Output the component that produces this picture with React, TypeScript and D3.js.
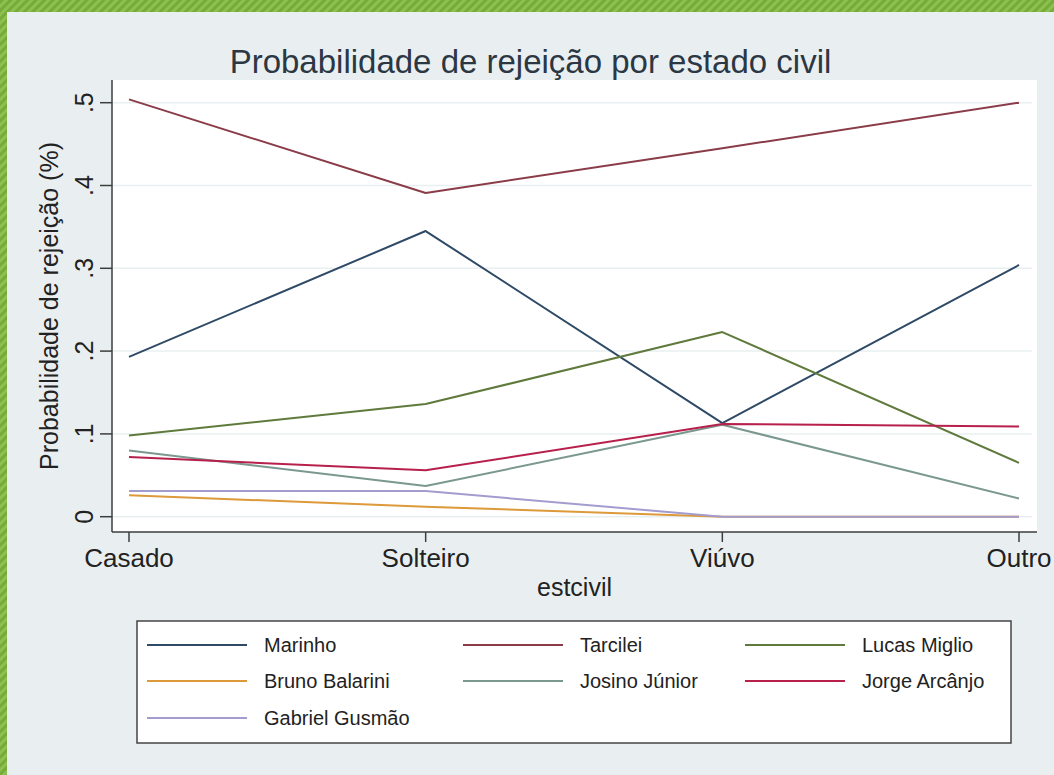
import React, { useEffect, useRef } from 'react';
import * as d3 from 'd3';

// categories on the x axis (estcivil)
const categories = ['Casado', 'Solteiro', 'Viúvo', 'Outro'];

// y ticks and their Stata-style labels
const yTicks = [0, 0.1, 0.2, 0.3, 0.4, 0.5];
const yTickLabels = ['0', '.1', '.2', '.3', '.4', '.5'];

// series names, in plot order
const seriesNames = ['Marinho', 'Tarcilei', 'Lucas Miglio', 'Bruno Balarini', 'Josino Júnior', 'Jorge Arcânjo', 'Gabriel Gusmão'];
const seriesColors = ['#2f4a66', '#8a3c48', '#5f7a3c', '#dd9a3a', '#7b9890', '#b8204c', '#a39ccf'];

// values per series, one per category
const marinho = [0.193, 0.345, 0.113, 0.304];
const tarcilei = [0.504, 0.391, 0.445, 0.5];
const lucasMiglio = [0.098, 0.136, 0.223, 0.065];
const brunoBalarini = [0.026, 0.012, 0.0, 0.0];
const josinoJunior = [0.08, 0.037, 0.111, 0.022];
const jorgeArcanjo = [0.072, 0.056, 0.112, 0.109];
const gabrielGusmao = [0.031, 0.031, 0.0, 0.0];

const seriesValues = [marinho, tarcilei, lucasMiglio, brunoBalarini, josinoJunior, jorgeArcanjo, gabrielGusmao];

const FONT = 'Liberation Sans, Arial, sans-serif';

const App = () => {
  const svgRef = useRef<SVGSVGElement | null>(null);

  useEffect(() => {
    if (!svgRef.current) return;
    const svg = d3.select(svgRef.current);
    svg.selectAll('*').remove();

    const width = 1054;
    const height = 775;

    // striped green frame
    const defs = svg.append('defs');
    const pat = defs.append('pattern')
      .attr('id', 'stripes')
      .attr('width', 6)
      .attr('height', 6)
      .attr('patternUnits', 'userSpaceOnUse')
      .attr('patternTransform', 'rotate(45)');
    pat.append('rect').attr('width', 6).attr('height', 6).attr('fill', '#8cc04f');
    pat.append('rect').attr('width', 3).attr('height', 6).attr('fill', '#76ab3a');

    svg.append('rect').attr('width', width).attr('height', height).attr('fill', 'url(#stripes)');

    // graph region background
    svg.append('rect')
      .attr('x', 7).attr('y', 12)
      .attr('width', width - 7).attr('height', height - 12)
      .attr('fill', '#e9eff1');

    // plot region
    const plot = { left: 112, right: 1037, top: 80, bottom: 532 };
    svg.append('rect')
      .attr('x', plot.left).attr('y', plot.top)
      .attr('width', plot.right - plot.left).attr('height', plot.bottom - plot.top)
      .attr('fill', '#ffffff');

    const xScale = d3.scalePoint<string>()
      .domain(categories)
      .range([129, 1019]);

    const yScale = d3.scaleLinear()
      .domain([0, 0.5])
      .range([516.7, 102.7]);

    // grid lines
    svg.append('g')
      .selectAll('line')
      .data(yTicks)
      .enter()
      .append('line')
      .attr('x1', plot.left)
      .attr('x2', plot.right - 5)
      .attr('y1', d => yScale(d))
      .attr('y2', d => yScale(d))
      .attr('stroke', '#e8eff1')
      .attr('stroke-width', 1.5);

    // series lines
    const line = d3.line<number>()
      .x((_, i) => xScale(categories[i]) as number)
      .y(d => yScale(d));

    svg.append('g')
      .selectAll('path')
      .data(seriesValues)
      .enter()
      .append('path')
      .attr('d', d => line(d))
      .attr('fill', 'none')
      .attr('stroke', (_, i) => seriesColors[i])
      .attr('stroke-width', 2)
      .attr('stroke-linejoin', 'round');

    // axes
    const axisColor = '#3d3d3d';
    svg.append('line')
      .attr('x1', plot.left).attr('x2', plot.left)
      .attr('y1', plot.top).attr('y2', plot.bottom)
      .attr('stroke', axisColor).attr('stroke-width', 1.5);
    svg.append('line')
      .attr('x1', plot.left).attr('x2', plot.right)
      .attr('y1', plot.bottom).attr('y2', plot.bottom)
      .attr('stroke', axisColor).attr('stroke-width', 1.5);

    // y ticks + rotated labels
    const yAxis = svg.append('g');
    yAxis.selectAll('line')
      .data(yTicks)
      .enter()
      .append('line')
      .attr('x1', 100).attr('x2', plot.left)
      .attr('y1', d => yScale(d)).attr('y2', d => yScale(d))
      .attr('stroke', axisColor).attr('stroke-width', 1.5);
    yAxis.selectAll('text')
      .data(yTicks)
      .enter()
      .append('text')
      .attr('transform', d => `translate(93, ${yScale(d)}) rotate(-90)`)
      .attr('text-anchor', 'middle')
      .attr('font-family', FONT)
      .attr('font-size', 25)
      .attr('fill', '#222')
      .text((_, i) => yTickLabels[i]);

    // x ticks + labels
    const xAxis = svg.append('g');
    xAxis.selectAll('line')
      .data(categories)
      .enter()
      .append('line')
      .attr('x1', d => xScale(d) as number).attr('x2', d => xScale(d) as number)
      .attr('y1', plot.bottom).attr('y2', plot.bottom + 10)
      .attr('stroke', axisColor).attr('stroke-width', 1.5);
    xAxis.selectAll('text')
      .data(categories)
      .enter()
      .append('text')
      .attr('x', d => xScale(d) as number)
      .attr('y', 567)
      .attr('text-anchor', 'middle')
      .attr('font-family', FONT)
      .attr('font-size', 26)
      .attr('fill', '#222')
      .text(d => d);

    // axis titles
    svg.append('text')
      .attr('x', (plot.left + plot.right) / 2)
      .attr('y', 596)
      .attr('text-anchor', 'middle')
      .attr('font-family', FONT)
      .attr('font-size', 25)
      .attr('fill', '#222')
      .text('estcivil');

    svg.append('text')
      .attr('transform', `translate(58, ${(plot.top + plot.bottom) / 2}) rotate(-90)`)
      .attr('text-anchor', 'middle')
      .attr('font-family', FONT)
      .attr('font-size', 25)
      .attr('fill', '#222')
      .text('Probabilidade de rejeição (%)');

    // title
    svg.append('text')
      .attr('x', 530.5)
      .attr('y', 73)
      .attr('text-anchor', 'middle')
      .attr('font-family', FONT)
      .attr('font-size', 33)
      .attr('fill', '#2c3744')
      .text('Probabilidade de rejeição por estado civil');

    // legend
    const legend = svg.append('g');
    legend.append('rect')
      .attr('x', 137).attr('y', 621)
      .attr('width', 1011 - 137).attr('height', 743 - 621)
      .attr('fill', '#ffffff')
      .attr('stroke', '#444').attr('stroke-width', 1.5);

    const colLineX = [147, 463, 745];
    const colTextX = [264, 580, 862];
    const rowY = [645, 681, 718];

    seriesNames.forEach((name, i) => {
      const col = i % 3;
      const row = Math.floor(i / 3);
      legend.append('line')
        .attr('x1', colLineX[col]).attr('x2', colLineX[col] + 100)
        .attr('y1', rowY[row]).attr('y2', rowY[row])
        .attr('stroke', seriesColors[i])
        .attr('stroke-width', 2);
      legend.append('text')
        .attr('x', colTextX[col])
        .attr('y', rowY[row] + 7)
        .attr('font-family', FONT)
        .attr('font-size', 20)
        .attr('fill', '#222')
        .text(name);
    });
  }, []);

  return (
    <svg
      ref={svgRef}
      width={1054}
      height={775}
      style={{ position: 'absolute', left: 0, top: 0, display: 'block' }}
    ></svg>
  );
};

export default App;
